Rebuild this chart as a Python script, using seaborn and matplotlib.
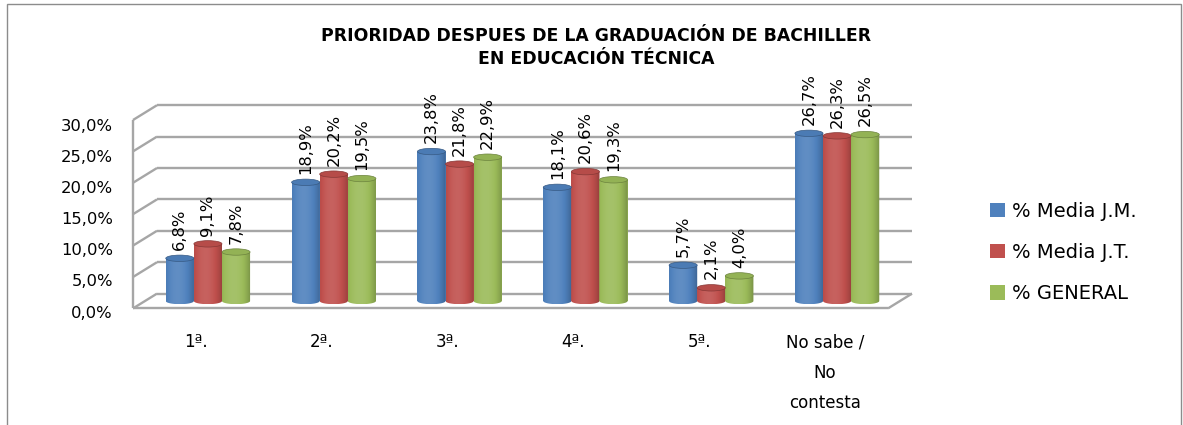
import numpy as np
import pandas as pd
import matplotlib
matplotlib.use("Agg")
import matplotlib.pyplot as plt
import seaborn as sns
from matplotlib.patches import Ellipse, PathPatch, Patch, Rectangle
from matplotlib.path import Path

# ---------------- data ----------------
categorias = ["1ª.", "2ª.", "3ª.", "4ª.", "5ª.", "No sabe /\nNo\ncontesta"]
series = ["% Media J.M.", "% Media J.T.", "% GENERAL"]
media_jm = [6.8, 18.9, 23.8, 18.1, 5.7, 26.7]
media_jt = [9.1, 20.2, 21.8, 20.6, 2.1, 26.3]
general = [7.8, 19.5, 22.9, 19.3, 4.0, 26.5]
yticks = [0, 5, 10, 15, 20, 25, 30]
ytick_labels = ["0,0%", "5,0%", "10,0%", "15,0%", "20,0%", "25,0%", "30,0%"]
titulo = "PRIORIDAD DESPUES DE LA GRADUACIÓN DE BACHILLER\nEN EDUCACIÓN TÉCNICA"
colors = ["#4F81BD", "#C0504D", "#9BBB59"]

df = pd.DataFrame({
    "Prioridad": categorias * 3,
    "Serie": np.repeat(series, len(categorias)),
    "Valor": media_jm + media_jt + general,
})

sns.set_style("white")
plt.rcParams["font.family"] = ["DejaVu Sans"]
plt.rcParams["text.color"] = "black"
plt.rcParams["xtick.color"] = "black"
plt.rcParams["ytick.color"] = "black"
plt.rcParams["axes.labelcolor"] = "black"

W, H = 1183, 425
fig = plt.figure(figsize=(W / 100, H / 100), dpi=100)


def fx(px):
    return px / W


def fy(py):
    return 1 - py / H


PX_CAT = 755 / 6
PX_PCT = 6.28
Y0_MID = 301.0
X0_MID = 145.0

# mid-depth plane (bars)
ax = fig.add_axes([fx(X0_MID), fy(Y0_MID + 2 * PX_PCT), 755 / W, (32 * PX_PCT) / H])
# front plane (tick labels)
ax_f = fig.add_axes([fx(133), fy(311.5), 755 / W, 186.5 / H])

DX = 12 / PX_CAT
DY = 7.4 / PX_PCT
RY = 3.2 / PX_PCT

sns.barplot(data=df, x="Prioridad", y="Valor", hue="Serie", order=categorias,
            hue_order=series, palette=colors, width=0.67, gap=0, saturation=1,
            legend=False, errorbar=None, edgecolor="none", linewidth=0, ax=ax)

ax.set_xlim(-0.5, 5.5)
ax.set_ylim(-2, 30)
ax.set_xlabel("")
ax.set_ylabel("")
ax.set_xticks([])
ax.set_yticks([])
for s in ax.spines.values():
    s.set_visible(False)
ax.patch.set_visible(False)

# ---------------- 3D frame ----------------
grid_c = "#A6A6A6"
lk = dict(color=grid_c, lw=1.7, clip_on=False, zorder=0.5, solid_capstyle="butt")
for v in yticks:
    ax.plot([-0.5 + DX, 5.5 + DX], [v + DY, v + DY], **lk)
    ax.plot([-0.5 - DX, -0.5 + DX], [v - DY, v + DY], **lk)
ax.plot([-0.5 - DX, -0.5 - DX], [-DY, 30 - DY], **lk)
ax.plot([-0.5 - DX, 5.5 - DX], [-DY, -DY], **lk)
ax.plot([5.5 - DX, 5.5 + DX], [-DY, DY], **lk)


# ---------------- cylinders ----------------
def shade(c, f):
    c = np.array(matplotlib.colors.to_rgb(c))
    if f >= 0:
        return c + (1 - c) * f
    return c * (1 + f)


t = np.linspace(0, 1, 64)
prof = 0.10 - 0.9 * (t - 0.40) ** 2
for container, col, vals in zip(ax.containers, colors, [media_jm, media_jt, general]):
    grad = np.array([shade(col, f) for f in prof])[np.newaxis, :, :]
    for bar in container:
        x0 = bar.get_x()
        w = bar.get_width()
        h = bar.get_height()
        cx = x0 + w / 2
        th = np.linspace(np.pi, 2 * np.pi, 40)
        verts = [(x0, h), (x0, 0)] + [(cx + w / 2 * np.cos(a), RY * np.sin(a)) for a in th] + [(x0 + w, h), (x0, h)]
        clip = PathPatch(Path(verts), transform=ax.transData)
        im = ax.imshow(grad, extent=(x0, x0 + w, -RY, h), aspect="auto",
                       interpolation="bilinear", zorder=3, origin="lower")
        im.set_clip_path(clip)
        ax.add_patch(Ellipse((cx, h), w, 2 * RY, facecolor=shade(col, -0.05),
                             edgecolor=shade(col, -0.3), lw=0.5, zorder=4))
    ax.bar_label(container, labels=[f"{v:.1f}".replace(".", ",") + "%" for v in vals],
                 rotation=90, padding=6, fontsize=11.8, color="black", zorder=5)

ax.set_xlim(-0.5, 5.5)
ax.set_ylim(-2, 30)

# ---------------- front axis labels ----------------
ax_f.set_xlim(-0.5, 5.5)
ax_f.set_ylim(0, 30)
ax_f.set_xticks(range(len(categorias)), categorias, fontsize=12)
for lab in ax_f.get_xticklabels():
    lab.set_linespacing(1.9)
ax_f.set_yticks(yticks, ytick_labels, fontsize=11.8)
ax_f.tick_params(length=0)
ax_f.tick_params(axis="y", pad=14.4)
ax_f.tick_params(axis="x", pad=15.5)
for s in ax_f.spines.values():
    s.set_visible(False)
ax_f.patch.set_visible(False)

# ---------------- title, legend, border ----------------
fig.text(fx(596), fy(47.5), titulo, ha="center", va="center", fontsize=12.4,
         fontweight="bold", linespacing=1.3, color="black")

handles = [Patch(facecolor=c, edgecolor="none") for c in colors]
ax.legend(handles, series, loc="center left", bbox_to_anchor=(fx(990), fy(252.5)),
          bbox_transform=fig.transFigure, frameon=False, fontsize=14,
          handlelength=0.77, handleheight=0.77, handletextpad=0.35,
          labelspacing=1.15, borderpad=0, borderaxespad=0)

fig.add_artist(Rectangle((fx(7), -0.1), fx(1181) - fx(7), fy(4) + 0.1,
                         transform=fig.transFigure, fill=False,
                         edgecolor="#8C8C8C", lw=1.0))

fig.savefig("out.png", dpi=100)
